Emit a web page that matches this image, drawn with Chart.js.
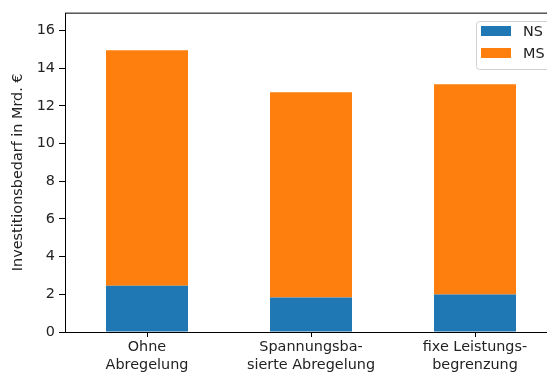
<!DOCTYPE html>
<html>
<head>
<meta charset="utf-8">
<script src="https://cdn.jsdelivr.net/npm/chart.js@4"></script>
<style>
  html, body { margin: 0; padding: 0; background: #fff; overflow: hidden; }
  #wrap { width: 580px; height: 374px; }
</style>
</head>
<body>
<div id="wrap"><canvas id="chart" width="580" height="374"></canvas></div>
<script>
const categories = [
  ["Ohne", "Abregelung"],
  ["Spannungsba-", "sierte Abregelung"],
  ["fixe Leistungs-", "begrenzung"]
];
const nsValues = [2.45, 1.83, 1.99];
const msValues = [12.50, 10.90, 11.16];
const yTicks = [0, 2, 4, 6, 8, 10, 12, 14, 16];

const FONT = "'DejaVu Sans', sans-serif";
const SIZE = 14.4;

// axes frame (all four spines) plus a boxed legend
const framePlugin = {
  id: "frame",
  afterDraw(chart) {
    const { ctx, chartArea: a } = chart;
    ctx.save();
    ctx.strokeStyle = "#000";
    ctx.lineWidth = 1;
    ctx.strokeRect(a.left + 0.5, a.top + 0.5, a.right - a.left, a.bottom - a.top);

    // legend
    const lx = 476, ly = 21, lw = 76, lh = 48;
    ctx.fillStyle = "rgba(255,255,255,0.8)";
    ctx.strokeStyle = "#d0d0d0";
    ctx.beginPath();
    ctx.roundRect(lx + 0.5, ly + 0.5, lw, lh, 3);
    ctx.fill();
    ctx.stroke();
    ctx.font = SIZE + "px " + FONT;
    ctx.textBaseline = "middle";
    chart.data.datasets.forEach((ds, i) => {
      const y = ly + 10 + i * 22;
      ctx.fillStyle = ds.backgroundColor;
      ctx.fillRect(lx + 5, y - 5, 30, 10);
      ctx.fillStyle = "#222";
      ctx.fillText(ds.label, lx + 47, y + 1);
    });
    ctx.restore();
  }
};

new Chart(document.getElementById("chart"), {
  type: "bar",
  data: {
    labels: categories,
    datasets: [
      { label: "NS", data: nsValues, backgroundColor: "#1f77b4" },
      { label: "MS", data: msValues, backgroundColor: "#ff7f0e" }
    ]
  },
  options: {
    responsive: false,
    animation: false,
    layout: { padding: { top: 12, right: 23, left: 0, bottom: 0 } },
    datasets: { bar: { barPercentage: 1, categoryPercentage: 0.5 } },
    plugins: { legend: { display: false }, tooltip: { enabled: false } },
    scales: {
      x: {
        stacked: true,
        offset: true,
        grid: { display: true, drawOnChartArea: false, drawTicks: true, tickLength: 5, color: "#000", offset: false },
        border: { display: false },
        ticks: { color: "#222", font: { family: FONT, size: SIZE, lineHeight: 1.25 }, padding: 1, maxRotation: 0 },
        afterFit(axis) { axis.height = 42; }
      },
      y: {
        stacked: true,
        min: 0,
        max: 16.95,
        afterBuildTicks(axis) { axis.ticks = yTicks.map(v => ({ value: v })); },
        grid: { display: true, drawOnChartArea: false, drawTicks: true, tickLength: 6, color: "#000" },
        border: { display: false },
        ticks: { color: "#222", font: { family: FONT, size: SIZE }, padding: 4 },
        title: {
          display: true,
          text: "Investitionsbedarf in Mrd. €",
          color: "#222",
          font: { family: FONT, size: SIZE },
          padding: { top: 10, bottom: 4 }
        },
        afterFit(axis) { axis.width = 65; }
      }
    }
  },
  plugins: [framePlugin]
});
</script>
</body>
</html>
